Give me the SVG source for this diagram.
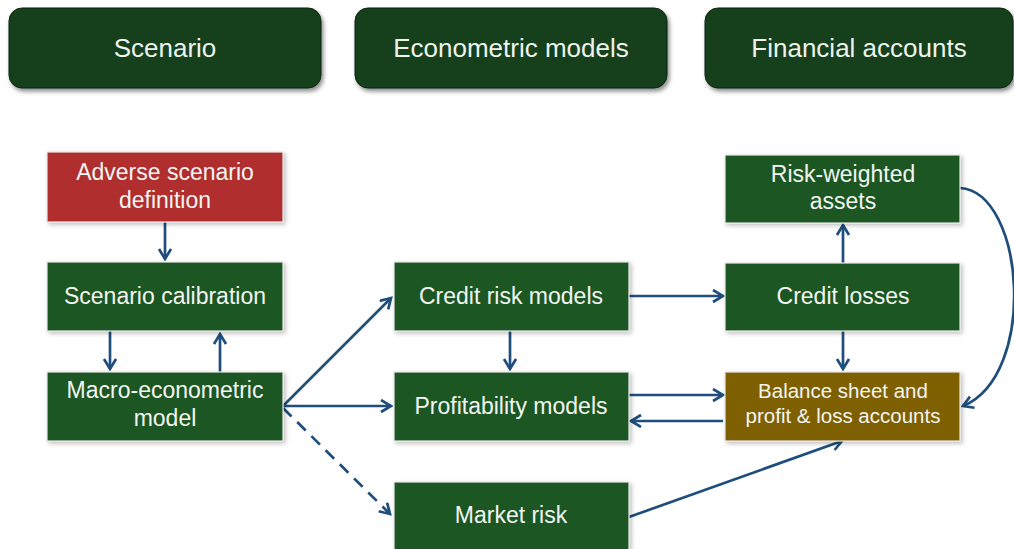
<svg xmlns="http://www.w3.org/2000/svg" width="1014" height="549" viewBox="0 0 1014 549">
<style>
.hdr{fill:#163f1b;stroke:#0d260f;stroke-width:1;filter:url(#sh1)}
.hdrt{fill:#eef3ee;font-family:"Liberation Sans",Arial,sans-serif;font-size:26px;text-anchor:middle}
.node{stroke:#e8e8e8;stroke-width:1.2;filter:url(#sh2)}
.g{fill:#1c5723}
.r{fill:#b02d2d}
.o{fill:#7f6000}
.t{fill:#f2f5f2;font-family:"Liberation Sans",Arial,sans-serif;font-size:23px;text-anchor:middle}
.ts{fill:#f2f5f2;font-family:"Liberation Sans",Arial,sans-serif;font-size:20.5px;text-anchor:middle}
.c{fill:none;stroke:#1f4e7c;stroke-width:2.7;marker-end:url(#ah)}
.d{stroke-dasharray:12 8}
</style>
<defs>
<filter id="sh1" x="-10%" y="-20%" width="120%" height="150%">
<feDropShadow dx="2" dy="3" stdDeviation="2" flood-color="#000" flood-opacity="0.45"/>
</filter>
<filter id="sh2" x="-10%" y="-20%" width="120%" height="150%">
<feDropShadow dx="2" dy="2" stdDeviation="2" flood-color="#000" flood-opacity="0.25"/>
</filter>
<marker id="ah" markerUnits="userSpaceOnUse" markerWidth="16" markerHeight="16" refX="12" refY="7" orient="auto">
<path d="M2,1 L12,7 L2,13" fill="none" stroke="#1f4e7c" stroke-width="2.7"/>
</marker>
</defs>

<g id="header-scenario"><rect class="hdr" x="9" y="8" width="312" height="80" rx="13"/><text class="hdrt" x="165" y="57">Scenario</text></g>
<g id="header-econometric"><rect class="hdr" x="355" y="8" width="312" height="80" rx="13"/><text class="hdrt" x="511" y="57">Econometric models</text></g>
<g id="header-financial"><rect class="hdr" x="705" y="8" width="308" height="80" rx="13"/><text class="hdrt" x="859" y="57">Financial accounts</text></g>

<g id="connectors">
<path class="c" d="M165,222 L165,259"/>
<path class="c" d="M110,331 L110,369"/>
<path class="c" d="M220,372 L220,334"/>
<path class="c" d="M283,406 L391,298"/>
<path class="c" d="M283,406 L391,406"/>
<path class="c d" d="M283,408 L390,514"/>
<path class="c" d="M510,331 L510,369"/>
<path class="c" d="M629,296 L723,296"/>
<path class="c" d="M843,263 L843,225"/>
<path class="c" d="M843,331 L843,369"/>
<path class="c" d="M629,395 L723,395"/>
<path class="c" d="M723,421 L631,421"/>
<path class="c" d="M629,517 L842,441"/>
<path class="c" d="M960,188 C1025,192 1038,375 963,406"/>
</g>

<g id="node-adverse"><rect class="node r" x="47" y="152" width="236" height="70"/><text class="t" x="165" y="180">Adverse scenario</text><text class="t" x="165" y="208">definition</text></g>
<g id="node-calibration"><rect class="node g" x="47" y="262" width="236" height="69"/><text class="t" x="165" y="304">Scenario calibration</text></g>
<g id="node-macro"><rect class="node g" x="47" y="372" width="236" height="69"/><text class="t" x="165" y="398">Macro-econometric</text><text class="t" x="165" y="426">model</text></g>
<g id="node-credit-risk"><rect class="node g" x="394" y="262" width="235" height="69"/><text class="t" x="511" y="304">Credit risk models</text></g>
<g id="node-profitability"><rect class="node g" x="394" y="372" width="235" height="69"/><text class="t" x="511" y="414">Profitability models</text></g>
<g id="node-market-risk"><rect class="node g" x="394" y="482" width="235" height="70"/><text class="t" x="511" y="523">Market risk</text></g>
<g id="node-rwa"><rect class="node g" x="725" y="155" width="235" height="68"/><text class="t" x="843" y="182">Risk-weighted</text><text class="t" x="843" y="209">assets</text></g>
<g id="node-credit-losses"><rect class="node g" x="725" y="263" width="235" height="68"/><text class="t" x="843" y="304">Credit losses</text></g>
<g id="node-balance"><rect class="node o" x="725" y="372" width="235" height="69"/><text class="ts" x="843" y="398">Balance sheet and</text><text class="ts" x="843" y="423">profit &amp; loss accounts</text></g>
</svg>
